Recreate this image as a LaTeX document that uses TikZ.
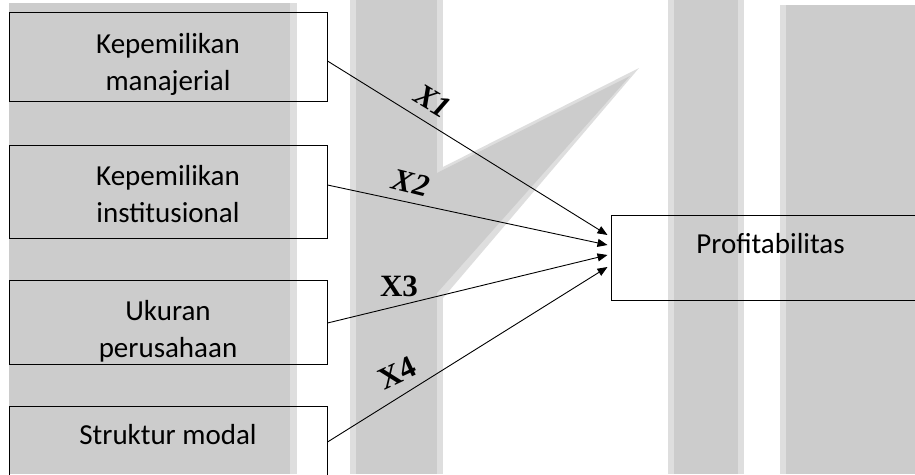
\documentclass[tikz,border=0pt]{standalone}
\usepackage{fontspec}
\setmainfont{Carlito}
\newfontfamily\lblfont{Liberation Serif}
\usetikzlibrary{arrows.meta}
\definecolor{wmdark}{gray}{0.80}
\definecolor{wmlight}{gray}{0.87}
\tikzset{
 box/.style={draw=black, line width=1pt, rectangle, inner sep=0pt},
 txt/.style={font=\fontsize{29}{37}\selectfont, align=center, inner sep=0pt, text=black},
 conn/.style={line width=0.9pt, -{Triangle[length=10pt,width=8pt]}},
 xlab/.style={font=\lblfont\bfseries\fontsize{31}{32}\selectfont, inner sep=0pt},
}
\begin{document}
\begin{tikzpicture}[x=1pt,y=-1pt]
\useasboundingbox (0,0) rectangle (915,474);
\clip (0,0) rectangle (915,474);
% watermark background
\fill[wmlight] (9,3) rectangle (297,474);
\fill[wmdark] (9,3) rectangle (290,474);
\fill[wmlight] (350,0) rectangle (443,474);
\fill[wmlight] (437,170) -- (639,68) -- (443,298) -- cycle;
\fill[wmdark] (356,0) rectangle (437,474);
\fill[wmdark] (437,173) -- (630,76) -- (437,293) -- cycle;
\fill[wmlight] (668,0) rectangle (744,474);
\fill[wmdark] (674,0) rectangle (738,474);
\fill[wmlight] (780,5) rectangle (915,474);
\fill[wmdark] (786,5) rectangle (915,474);
% boxes
\node[box, minimum width=318pt, minimum height=89pt] (b1) at (168,56.5) {};
\node[box, minimum width=318pt, minimum height=93pt] (b2) at (168,191.5) {};
\node[box, minimum width=318pt, minimum height=84pt] (b3) at (168,322) {};
\node[box, minimum width=318pt, minimum height=89pt] (b4) at (168,450.5) {};
\node[box, minimum width=330pt, minimum height=85pt] (b5) at (776,257.5) {};
% texts
\node[txt] (t1) at (168,64.9) {Kepemilikan\\manajerial};
\node[txt] (t2) at (168,193.6) {Kepemilikan\\institusional};
\node[txt] (t3) at (168,331.6) {Ukuran\\perusahaan};
\node[txt] (t4) at (168,434.9) {Struktur modal};
\node[txt] (t5) at (770.5,243.8) {Profitabilitas};
% connectors
\draw[conn] ([yshift=-4.5pt]b1.east) -- ([xshift=-3pt,yshift=22.5pt]b5.west);
\draw[conn] ([yshift=6.5pt]b2.east) -- ([xshift=-3pt,yshift=12.5pt]b5.west);
\draw[conn] ([yshift=-1pt]b3.east) -- ([xshift=-3pt,yshift=2.5pt]b5.west);
\draw[conn] ([yshift=8.5pt]b4.east) -- ([xshift=-3pt,yshift=-9.5pt]b5.west);
% labels
\node[xlab, rotate=-31] (x1) at (433,101) {\itshape X1};
\node[xlab, rotate=-14] (x2) at (411,183) {\itshape X2};
\node[xlab] (x3) at (399,286) {X3};
\node[xlab, rotate=25] (x4) at (397,373) {X4};
\end{tikzpicture}
\end{document}
